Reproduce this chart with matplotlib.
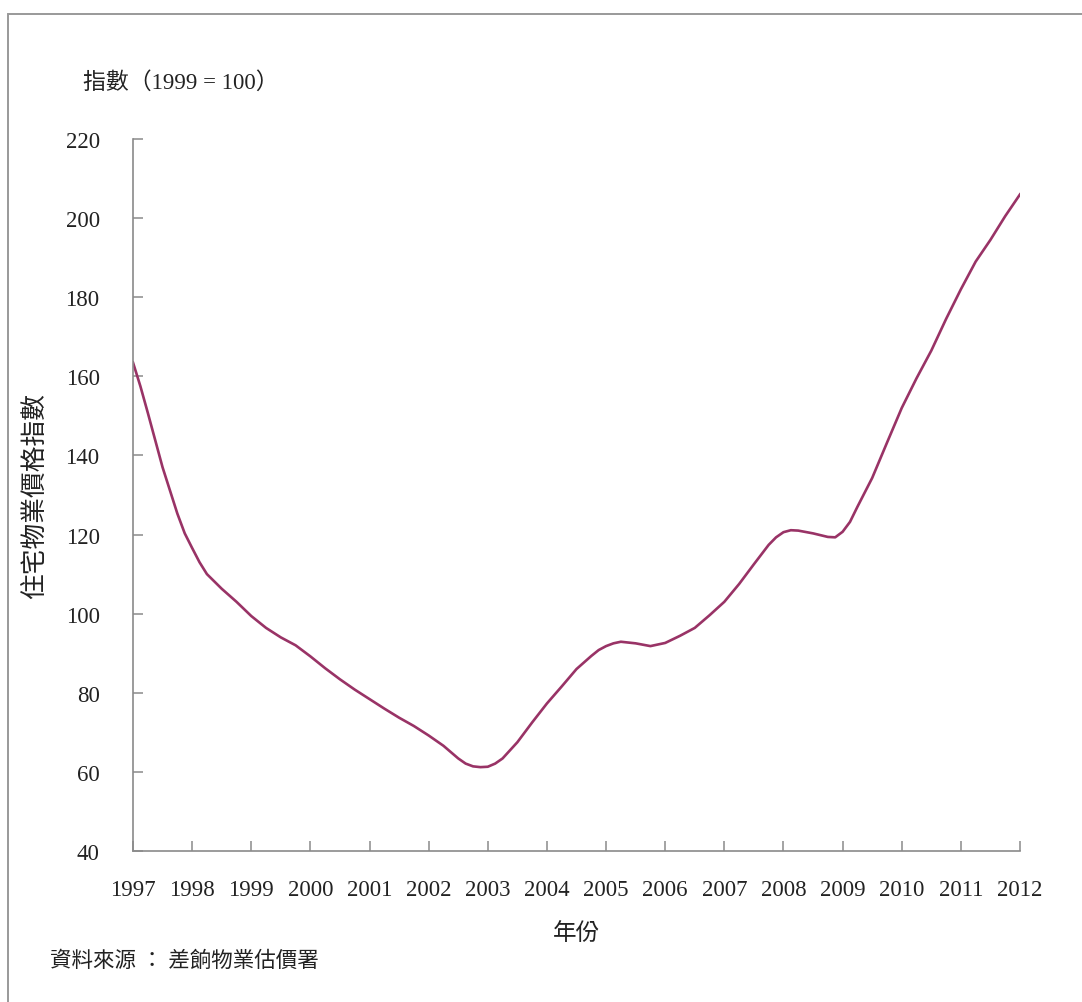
import numpy as np
import matplotlib
matplotlib.use('Agg')
import matplotlib.pyplot as plt
from matplotlib.patches import Rectangle

plt.rcParams['font.family'] = ['Liberation Serif', 'Noto Sans CJK TC', 'DejaVu Sans']

# Readings of the residential property price index (1999 = 100), roughly quarterly,
# with a few extra points where the curve bends
years = [1997.00, 1997.125, 1997.25, 1997.50, 1997.75, 1997.875,
         1998.00, 1998.125, 1998.25, 1998.50, 1998.75,
         1999.00, 1999.25, 1999.50, 1999.75,
         2000.00, 2000.25, 2000.50, 2000.75,
         2001.00, 2001.25, 2001.50, 2001.75,
         2002.00, 2002.25, 2002.50, 2002.625, 2002.75, 2002.875,
         2003.00, 2003.125, 2003.25, 2003.50, 2003.75,
         2004.00, 2004.25, 2004.50, 2004.75, 2004.875,
         2005.00, 2005.125, 2005.25, 2005.50, 2005.75,
         2006.00, 2006.25, 2006.50, 2006.75,
         2007.00, 2007.25, 2007.50, 2007.75, 2007.875,
         2008.00, 2008.125, 2008.25, 2008.50, 2008.75, 2008.875,
         2009.00, 2009.125, 2009.25, 2009.50, 2009.75,
         2010.00, 2010.25, 2010.50, 2010.75,
         2011.00, 2011.25, 2011.50, 2011.75,
         2012.00]
index = [163.5, 157.5, 150.8, 137.0, 125.3, 120.3,
         116.6, 113.0, 110.0, 106.3, 103.0,
         99.4, 96.4, 94.0, 92.0,
         89.2, 86.2, 83.4, 80.8,
         78.4, 76.0, 73.7, 71.6,
         69.2, 66.6, 63.4, 62.1, 61.4, 61.2,
         61.3, 62.1, 63.4, 67.5, 72.5,
         77.3, 81.6, 86.0, 89.3, 90.8,
         91.8, 92.5, 92.9, 92.5, 91.8,
         92.6, 94.4, 96.4, 99.6,
         103.0, 107.5, 112.5, 117.4, 119.3,
         120.6, 121.1, 121.0, 120.3, 119.4, 119.3,
         120.7, 123.2, 127.0, 134.3, 143.2,
         152.0, 159.5, 166.5, 174.5,
         182.0, 189.0, 194.5, 200.5,
         206.0]

year_ticks = list(range(1997, 2013))
y_ticks = list(range(40, 221, 20))

fig = plt.figure(figsize=(10.82, 10.03), dpi=100)
ax = fig.add_axes([133 / 1082, 1 - 852 / 1003, (1020 - 133) / 1082, (852 - 140) / 1003])

ax.plot(years, index, color='#993366', linewidth=1.9, solid_joinstyle='round')

ax.set_xlim(1997, 2012)
ax.set_ylim(40, 220)
ax.set_xticks(year_ticks)
ax.set_xticklabels([str(y) for y in year_ticks])
ax.set_yticks(y_ticks)

for side in ['top', 'right']:
    ax.spines[side].set_visible(False)
for side in ['left', 'bottom']:
    ax.spines[side].set_color('#8a8a8a')
    ax.spines[side].set_linewidth(1.2)

ax.tick_params(axis='both', direction='in', length=7, width=1.1, color='#8a8a8a',
               labelsize=16.5, labelcolor='#222222')
ax.tick_params(axis='y', pad=24)
ax.tick_params(axis='x', pad=20)

ax.set_xlabel('年份', fontsize=17, color='#222222', labelpad=16)

fig.text(36 / 1082, 1 - 496 / 1003, '住宅物業價格指數', rotation=90, fontsize=18.5,
         color='#222222', ha='center', va='center')
fig.text(83 / 1082, 1 - 83 / 1003, '指數（1999 = 100）', fontsize=16.5,
         color='#222222', ha='left', va='center')
fig.text(50 / 1082, 1 - 962 / 1003, '資料來源 ： 差餉物業估價署', fontsize=15.5,
         color='#222222', ha='left', va='center')

# outer frame (left and top edges visible)
fig.patches.append(Rectangle((8 / 1082, -0.05), 1.2, 1 - 15 / 1003 + 0.05,
                             transform=fig.transFigure, fill=False,
                             edgecolor='#999999', linewidth=1.4))

fig.savefig('out.png', dpi=100)
